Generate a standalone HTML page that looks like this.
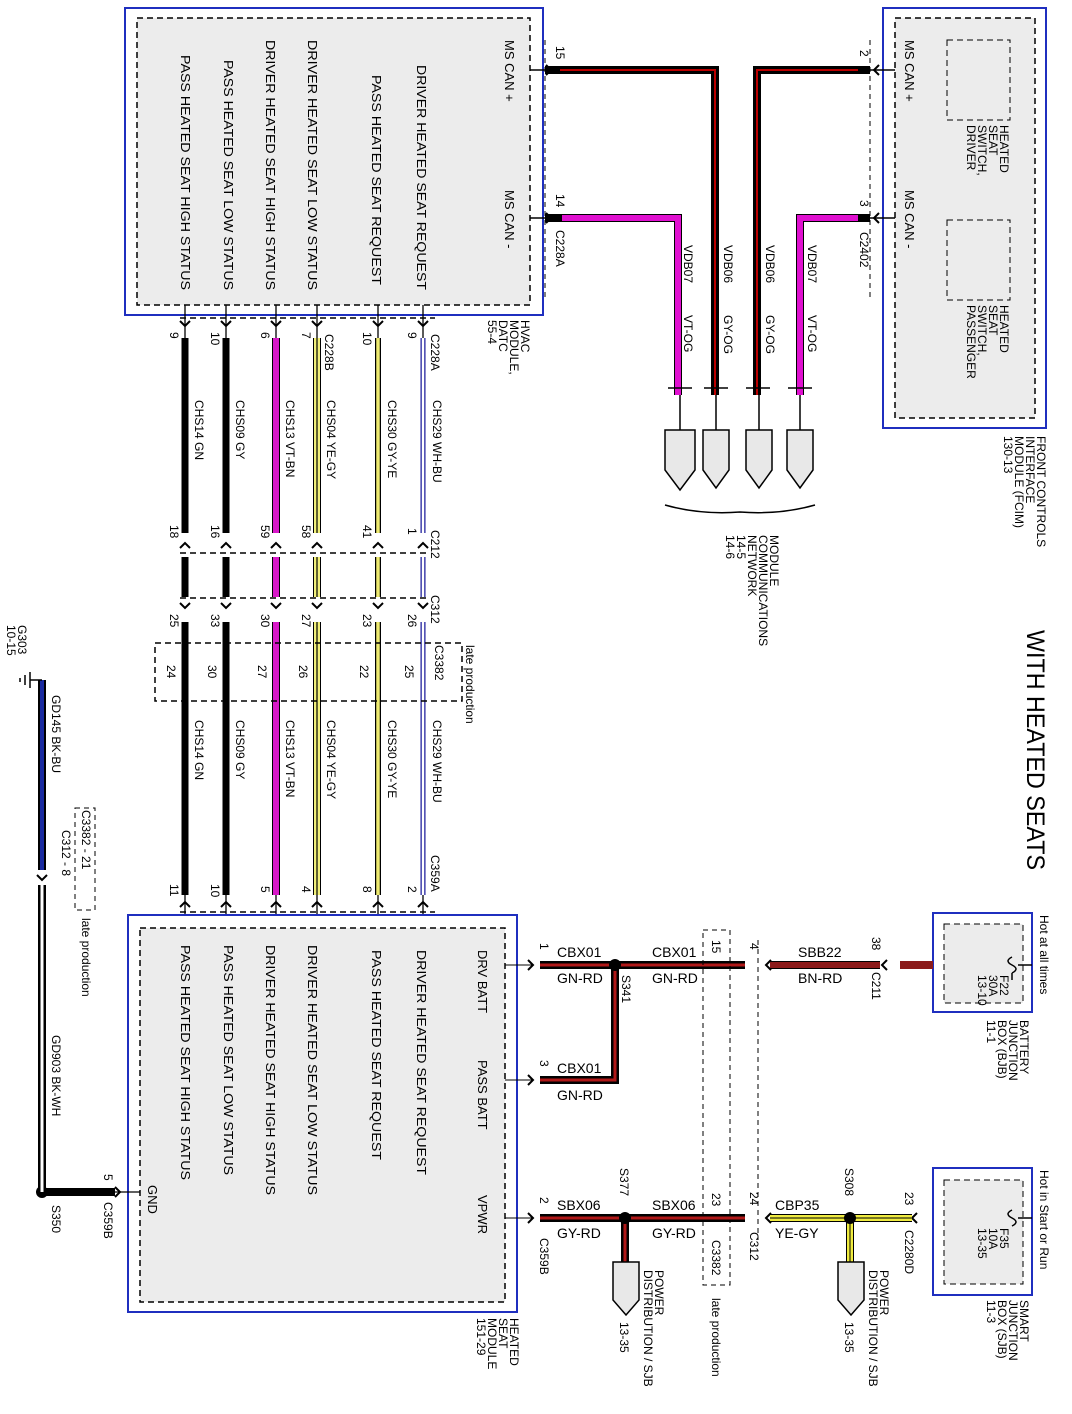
<!DOCTYPE html>
<html><head><meta charset="utf-8"><style>
html,body{margin:0;padding:0;background:#fff;}
svg{display:block;}
text{font-family:"Liberation Sans",Arial,sans-serif;font-size:13px;fill:#000;}
.s{font-size:12px;}
.h{font-size:14px;}
</style></head><body>
<svg width="1072" height="1414" viewBox="0 0 1072 1414" xmlns="http://www.w3.org/2000/svg">
<defs>
<g id="arr"><path d="M-5,-5 L0,0 L5,-5" fill="none" stroke="#000" stroke-width="2"/></g>
<g id="arrU"><path d="M-5,5 L0,0 L5,5" fill="none" stroke="#000" stroke-width="2"/></g>
<g id="arrL"><path d="M5,-5 L0,0 L5,5" fill="none" stroke="#000" stroke-width="2"/></g>
<g id="arrR"><path d="M-5,-5 L0,0 L-5,5" fill="none" stroke="#000" stroke-width="2"/></g>
</defs>

<!-- HVAC module -->
<rect x="125" y="8" width="418" height="307" fill="#fff" stroke="#1f2fbf" stroke-width="2"/>
<rect x="137" y="18" width="393" height="287" fill="#ececec" stroke="#000" stroke-width="1.5" stroke-dasharray="6,4"/>
<text transform="translate(417,65) rotate(90)" textLength="225" lengthAdjust="spacingAndGlyphs">DRIVER HEATED SEAT REQUEST</text>
<text transform="translate(372,75) rotate(90)" textLength="210" lengthAdjust="spacingAndGlyphs">PASS HEATED SEAT REQUEST</text>
<text transform="translate(308,40) rotate(90)" textLength="250" lengthAdjust="spacingAndGlyphs">DRIVER HEATED SEAT LOW STATUS</text>
<text transform="translate(266,40) rotate(90)" textLength="250" lengthAdjust="spacingAndGlyphs">DRIVER HEATED SEAT HIGH STATUS</text>
<text transform="translate(224,60) rotate(90)" textLength="230" lengthAdjust="spacingAndGlyphs">PASS HEATED SEAT LOW STATUS</text>
<text transform="translate(181,55) rotate(90)" textLength="235" lengthAdjust="spacingAndGlyphs">PASS HEATED SEAT HIGH STATUS</text>
<text transform="translate(505,40) rotate(90)">MS CAN +</text>
<text transform="translate(505,190) rotate(90)">MS CAN -</text>
<text class="s" transform="translate(521,320) rotate(90)">HVAC</text>
<text class="s" transform="translate(510,320) rotate(90)">MODULE,</text>
<text class="s" transform="translate(499,320) rotate(90)">DATC</text>
<text class="s" transform="translate(488,320) rotate(90)">55-4</text>

<!-- FCIM -->
<rect x="883" y="8" width="163" height="420" fill="#fff" stroke="#1f2fbf" stroke-width="2"/>
<rect x="895" y="18" width="140" height="400" fill="#ececec" stroke="#000" stroke-width="1.5" stroke-dasharray="6,4"/>
<rect x="947" y="40" width="63" height="80" fill="none" stroke="#000" stroke-dasharray="6,4"/>
<rect x="947" y="220" width="63" height="80" fill="none" stroke="#000" stroke-dasharray="6,4"/>
<text class="s" transform="translate(1000,125) rotate(90)">HEATED</text>
<text class="s" transform="translate(989,125) rotate(90)">SEAT</text>
<text class="s" transform="translate(978,125) rotate(90)">SWITCH,</text>
<text class="s" transform="translate(967,125) rotate(90)">DRIVER</text>
<text class="s" transform="translate(1000,305) rotate(90)">HEATED</text>
<text class="s" transform="translate(989,305) rotate(90)">SEAT</text>
<text class="s" transform="translate(978,305) rotate(90)">SWITCH,</text>
<text class="s" transform="translate(967,305) rotate(90)">PASSENGER</text>
<text transform="translate(905,40) rotate(90)">MS CAN +</text>
<text transform="translate(905,190) rotate(90)">MS CAN -</text>
<text class="s" transform="translate(1037,436) rotate(90)">FRONT CONTROLS</text>
<text class="s" transform="translate(1026,436) rotate(90)">INTERFACE</text>
<text class="s" transform="translate(1015,436) rotate(90)">MODULE (FCIM)</text>
<text class="s" transform="translate(1004,436) rotate(90)">130-13</text>

<text transform="translate(1027,630) rotate(90)" style="font-size:25px" textLength="240" lengthAdjust="spacingAndGlyphs">WITH HEATED SEATS</text>

<!-- CAN wires -->
<path d="M545,70 H715 V395" fill="none" stroke="#000" stroke-width="8"/>
<path d="M560,70 H715 V395" fill="none" stroke="#b00" stroke-width="2"/>
<path d="M870,70 H757 V395" fill="none" stroke="#000" stroke-width="8"/>
<path d="M858,70 H757 V395" fill="none" stroke="#b00" stroke-width="2"/>
<path d="M545,218 H678 V395" fill="none" stroke="#000" stroke-width="8"/>
<path d="M562,218 H678 V395" fill="none" stroke="#e010d0" stroke-width="6"/>
<path d="M870,218 H800 V395" fill="none" stroke="#000" stroke-width="8"/>
<path d="M858,218 H800 V395" fill="none" stroke="#e010d0" stroke-width="6"/>
<use href="#arrR" x="551" y="70"/><use href="#arrR" x="551" y="218"/>
<use href="#arrL" x="874" y="70"/><use href="#arrL" x="874" y="218"/>
<line x1="530" y1="70" x2="545" y2="70" stroke="#000" stroke-width="1.5"/>
<line x1="530" y1="218" x2="545" y2="218" stroke="#000" stroke-width="1.5"/>
<line x1="870" y1="70" x2="895" y2="70" stroke="#000" stroke-width="1.5"/>
<line x1="870" y1="218" x2="895" y2="218" stroke="#000" stroke-width="1.5"/>
<line x1="545" y1="40" x2="545" y2="300" stroke="#000" stroke-dasharray="5,4"/>
<line x1="870" y1="40" x2="870" y2="300" stroke="#000" stroke-dasharray="5,4"/>
<text class="s" transform="translate(556,46) rotate(90)">15</text>
<text class="s" transform="translate(556,194) rotate(90)">14</text>
<text class="s" transform="translate(556,230) rotate(90)">C228A</text>
<text class="s" transform="translate(860,50) rotate(90)">2</text>
<text class="s" transform="translate(860,200) rotate(90)">3</text>
<text class="s" transform="translate(860,232) rotate(90)">C2402</text>
<text class="s" transform="translate(684,245) rotate(90)">VDB07</text>
<text class="s" transform="translate(684,315) rotate(90)">VT-OG</text>
<text class="s" transform="translate(724,245) rotate(90)">VDB06</text>
<text class="s" transform="translate(724,315) rotate(90)">GY-OG</text>
<text class="s" transform="translate(766,245) rotate(90)">VDB06</text>
<text class="s" transform="translate(766,315) rotate(90)">GY-OG</text>
<text class="s" transform="translate(808,245) rotate(90)">VDB07</text>
<text class="s" transform="translate(808,315) rotate(90)">VT-OG</text>
<g fill="#e8e8e8" stroke="#000" stroke-width="1.5">
<path d="M665,430 H695 V470 L680,490 L665,470 Z"/>
<path d="M703,430 H729 V470 L716,488 L703,470 Z"/>
<path d="M746,430 H772 V470 L759,488 L746,470 Z"/>
<path d="M787,430 H813 V470 L800,488 L787,470 Z"/>
</g>
<g stroke="#000" stroke-width="1.5"><line x1="668" y1="388" x2="692" y2="388"/><line x1="704" y1="388" x2="728" y2="388"/><line x1="746" y1="388" x2="770" y2="388"/><line x1="788" y1="388" x2="812" y2="388"/>
<line x1="680" y1="395" x2="680" y2="430"/><line x1="716" y1="395" x2="716" y2="430"/><line x1="759" y1="395" x2="759" y2="430"/><line x1="800" y1="395" x2="800" y2="430"/></g>
<path d="M665,505 Q700,515 740,512 Q780,515 815,505" fill="none" stroke="#000" stroke-width="1.5"/>
<text class="s" transform="translate(770,535) rotate(90)">MODULE</text>
<text class="s" transform="translate(759,535) rotate(90)">COMMUNICATIONS</text>
<text class="s" transform="translate(748,535) rotate(90)">NETWORK</text>
<text class="s" transform="translate(737,535) rotate(90)">14-5</text>
<text class="s" transform="translate(726,535) rotate(90)">14-6</text>

<!-- six vertical wires -->
<g>
<g stroke="#000" stroke-width="7"><line x1="185" y1="338" x2="185" y2="533"/><line x1="185" y1="557" x2="185" y2="597"/><line x1="185" y1="622" x2="185" y2="895"/>
<line x1="226" y1="338" x2="226" y2="533"/><line x1="226" y1="557" x2="226" y2="597"/><line x1="226" y1="622" x2="226" y2="895"/></g>
<g stroke="#000" stroke-width="8"><line x1="276" y1="338" x2="276" y2="533"/><line x1="276" y1="557" x2="276" y2="597"/><line x1="276" y1="622" x2="276" y2="895"/>
<line x1="317" y1="338" x2="317" y2="533"/><line x1="317" y1="557" x2="317" y2="597"/><line x1="317" y1="622" x2="317" y2="895"/></g>
<g stroke="#d818c8" stroke-width="6"><line x1="276" y1="338" x2="276" y2="533"/><line x1="276" y1="557" x2="276" y2="597"/><line x1="276" y1="622" x2="276" y2="895"/></g>
<g stroke="#f2f07a" stroke-width="6"><line x1="317" y1="338" x2="317" y2="533"/><line x1="317" y1="557" x2="317" y2="597"/><line x1="317" y1="622" x2="317" y2="895"/></g>
<g stroke="#000" stroke-width="1.2"><line x1="317" y1="338" x2="317" y2="533"/><line x1="317" y1="557" x2="317" y2="597"/><line x1="317" y1="622" x2="317" y2="895"/></g>
<g stroke="#000" stroke-width="6"><line x1="378" y1="338" x2="378" y2="533"/><line x1="378" y1="557" x2="378" y2="597"/><line x1="378" y1="622" x2="378" y2="895"/></g>
<g stroke="#eeea70" stroke-width="3.5"><line x1="378" y1="338" x2="378" y2="533"/><line x1="378" y1="557" x2="378" y2="597"/><line x1="378" y1="622" x2="378" y2="895"/></g>
<g stroke="#1a1a9a" stroke-width="5"><line x1="423" y1="338" x2="423" y2="533"/><line x1="423" y1="557" x2="423" y2="597"/><line x1="423" y1="622" x2="423" y2="895"/></g>
<g stroke="#fff" stroke-width="2.5"><line x1="423" y1="338" x2="423" y2="533"/><line x1="423" y1="557" x2="423" y2="597"/><line x1="423" y1="622" x2="423" y2="895"/></g>
</g>
<g stroke="#000" stroke-width="1.3">
<line x1="185" y1="305" x2="185" y2="338"/><line x1="226" y1="305" x2="226" y2="338"/><line x1="276" y1="305" x2="276" y2="338"/><line x1="317" y1="305" x2="317" y2="338"/><line x1="378" y1="305" x2="378" y2="338"/><line x1="423" y1="305" x2="423" y2="338"/>
<line x1="185" y1="895" x2="185" y2="928"/><line x1="226" y1="895" x2="226" y2="928"/><line x1="276" y1="895" x2="276" y2="928"/><line x1="317" y1="895" x2="317" y2="928"/><line x1="378" y1="895" x2="378" y2="928"/><line x1="423" y1="895" x2="423" y2="928"/>
</g>
<g>
<use href="#arr" x="185" y="326"/><use href="#arr" x="226" y="326"/><use href="#arr" x="276" y="326"/><use href="#arr" x="317" y="326"/><use href="#arr" x="378" y="326"/><use href="#arr" x="423" y="326"/>
<use href="#arrU" x="185" y="543"/><use href="#arrU" x="226" y="543"/><use href="#arrU" x="276" y="543"/><use href="#arrU" x="317" y="543"/><use href="#arrU" x="378" y="543"/><use href="#arrU" x="423" y="543"/>
<use href="#arr" x="185" y="608"/><use href="#arr" x="226" y="608"/><use href="#arr" x="276" y="608"/><use href="#arr" x="317" y="608"/><use href="#arr" x="378" y="608"/><use href="#arr" x="423" y="608"/>
<use href="#arrU" x="185" y="902"/><use href="#arrU" x="226" y="902"/><use href="#arrU" x="276" y="902"/><use href="#arrU" x="317" y="902"/><use href="#arrU" x="378" y="902"/><use href="#arrU" x="423" y="902"/>
</g>
<g stroke="#000" stroke-width="1.5" stroke-dasharray="6,4" fill="none">
<line x1="180" y1="318" x2="435" y2="318"/>
<line x1="180" y1="553" x2="430" y2="553"/>
<line x1="180" y1="598" x2="430" y2="598"/>
<rect x="155" y="643" width="307" height="58"/>
<line x1="180" y1="912" x2="435" y2="912"/>
</g>
<g>
<text class="s" transform="translate(170,332) rotate(90)">9</text><text class="s" transform="translate(211,332) rotate(90)">10</text><text class="s" transform="translate(261,332) rotate(90)">6</text><text class="s" transform="translate(302,332) rotate(90)">7</text><text class="s" transform="translate(363,332) rotate(90)">10</text><text class="s" transform="translate(408,332) rotate(90)">9</text>
<text class="s" transform="translate(325,334) rotate(90)">C228B</text><text class="s" transform="translate(431,334) rotate(90)">C228A</text>
<text class="s" transform="translate(170,525) rotate(90)">18</text><text class="s" transform="translate(211,525) rotate(90)">16</text><text class="s" transform="translate(261,525) rotate(90)">59</text><text class="s" transform="translate(302,525) rotate(90)">58</text><text class="s" transform="translate(363,525) rotate(90)">41</text><text class="s" transform="translate(408,528) rotate(90)">1</text>
<text class="s" transform="translate(431,530) rotate(90)">C212</text><text class="s" transform="translate(431,595) rotate(90)">C312</text>
<text class="s" transform="translate(170,614) rotate(90)">25</text><text class="s" transform="translate(211,614) rotate(90)">33</text><text class="s" transform="translate(261,614) rotate(90)">30</text><text class="s" transform="translate(302,614) rotate(90)">27</text><text class="s" transform="translate(363,614) rotate(90)">23</text><text class="s" transform="translate(408,614) rotate(90)">26</text>
<text class="s" transform="translate(167,665) rotate(90)">24</text><text class="s" transform="translate(208,665) rotate(90)">30</text><text class="s" transform="translate(258,665) rotate(90)">27</text><text class="s" transform="translate(299,665) rotate(90)">26</text><text class="s" transform="translate(360,665) rotate(90)">22</text><text class="s" transform="translate(405,665) rotate(90)">25</text>
<text class="s" transform="translate(435,645) rotate(90)">C3382</text><text class="s" transform="translate(466,645) rotate(90)">late production</text>
<text class="s" transform="translate(195,400) rotate(90)">CHS14   GN</text><text class="s" transform="translate(236,400) rotate(90)">CHS09   GY</text><text class="s" transform="translate(286,400) rotate(90)">CHS13   VT-BN</text><text class="s" transform="translate(327,400) rotate(90)">CHS04   YE-GY</text><text class="s" transform="translate(388,400) rotate(90)">CHS30   GY-YE</text><text class="s" transform="translate(433,400) rotate(90)">CHS29   WH-BU</text>
<text class="s" transform="translate(195,720) rotate(90)">CHS14   GN</text><text class="s" transform="translate(236,720) rotate(90)">CHS09   GY</text><text class="s" transform="translate(286,720) rotate(90)">CHS13   VT-BN</text><text class="s" transform="translate(327,720) rotate(90)">CHS04   YE-GY</text><text class="s" transform="translate(388,720) rotate(90)">CHS30   GY-YE</text><text class="s" transform="translate(433,720) rotate(90)">CHS29   WH-BU</text>
<text class="s" transform="translate(170,884) rotate(90)">11</text><text class="s" transform="translate(211,884) rotate(90)">10</text><text class="s" transform="translate(261,886) rotate(90)">5</text><text class="s" transform="translate(302,886) rotate(90)">4</text><text class="s" transform="translate(363,886) rotate(90)">8</text><text class="s" transform="translate(408,886) rotate(90)">2</text>
<text class="s" transform="translate(431,855) rotate(90)">C359A</text>
</g>

<!-- Heated seat module -->
<rect x="128" y="915" width="389" height="397" fill="#fff" stroke="#1f2fbf" stroke-width="2"/>
<rect x="140" y="928" width="365" height="374" fill="#ececec" stroke="#000" stroke-width="1.5" stroke-dasharray="6,4"/>
<text transform="translate(417,950) rotate(90)" textLength="225" lengthAdjust="spacingAndGlyphs">DRIVER HEATED SEAT REQUEST</text>
<text transform="translate(372,950) rotate(90)" textLength="210" lengthAdjust="spacingAndGlyphs">PASS HEATED SEAT REQUEST</text>
<text transform="translate(308,945) rotate(90)" textLength="250" lengthAdjust="spacingAndGlyphs">DRIVER HEATED SEAT LOW STATUS</text>
<text transform="translate(266,945) rotate(90)" textLength="250" lengthAdjust="spacingAndGlyphs">DRIVER HEATED SEAT HIGH STATUS</text>
<text transform="translate(224,945) rotate(90)" textLength="230" lengthAdjust="spacingAndGlyphs">PASS HEATED SEAT LOW STATUS</text>
<text transform="translate(181,945) rotate(90)" textLength="235" lengthAdjust="spacingAndGlyphs">PASS HEATED SEAT HIGH STATUS</text>
<text transform="translate(478,950) rotate(90)">DRV BATT</text>
<text transform="translate(478,1060) rotate(90)">PASS BATT</text>
<text transform="translate(478,1195) rotate(90)">VPWR</text>
<text transform="translate(148,1185) rotate(90)">GND</text>
<text class="s" transform="translate(510,1318) rotate(90)">HEATED</text>
<text class="s" transform="translate(499,1318) rotate(90)">SEAT</text>
<text class="s" transform="translate(488,1318) rotate(90)">MODULE</text>
<text class="s" transform="translate(477,1318) rotate(90)">151-29</text>

<!-- BJB -->
<rect x="933" y="913" width="99" height="99" fill="#fff" stroke="#1f2fbf" stroke-width="2"/>
<rect x="944" y="924" width="79" height="79" fill="#ececec" stroke="#000" stroke-dasharray="6,4"/>
<text class="s" transform="translate(1000,975) rotate(90)">F22</text>
<text class="s" transform="translate(989,975) rotate(90)">30A</text>
<text class="s" transform="translate(978,975) rotate(90)">13-10</text>
<path d="M1032,965 H1018 M1012,957 Q1004,961 1012,965 Q1020,969 1012,973 M1012,973 V980" fill="none" stroke="#000" stroke-width="1.5"/>
<text class="s" transform="translate(1040,915) rotate(90)">Hot at all times</text>
<text class="s" transform="translate(1020,1020) rotate(90)">BATTERY</text>
<text class="s" transform="translate(1009,1020) rotate(90)">JUNCTION</text>
<text class="s" transform="translate(998,1020) rotate(90)">BOX (BJB)</text>
<text class="s" transform="translate(987,1020) rotate(90)">11-1</text>

<!-- SJB -->
<rect x="933" y="1168" width="99" height="127" fill="#fff" stroke="#1f2fbf" stroke-width="2"/>
<rect x="944" y="1180" width="79" height="104" fill="#ececec" stroke="#000" stroke-dasharray="6,4"/>
<text class="s" transform="translate(1000,1228) rotate(90)">F35</text>
<text class="s" transform="translate(989,1228) rotate(90)">10A</text>
<text class="s" transform="translate(978,1228) rotate(90)">13-35</text>
<path d="M1032,1218 H1018 M1012,1210 Q1004,1214 1012,1218 Q1020,1222 1012,1226" fill="none" stroke="#000" stroke-width="1.5"/>
<text class="s" transform="translate(1040,1170) rotate(90)">Hot in Start or Run</text>
<text class="s" transform="translate(1020,1300) rotate(90)">SMART</text>
<text class="s" transform="translate(1009,1300) rotate(90)">JUNCTION</text>
<text class="s" transform="translate(998,1300) rotate(90)">BOX (SJB)</text>
<text class="s" transform="translate(987,1300) rotate(90)">11-3</text>

<!-- Power wires -->
<line x1="900" y1="965" x2="933" y2="965" stroke="#8b1a1a" stroke-width="8"/>
<line x1="770" y1="965" x2="880" y2="965" stroke="#000" stroke-width="8"/>
<line x1="770" y1="965" x2="880" y2="965" stroke="#8b1a1a" stroke-width="6"/>
<path d="M540,965 H745 M615,965 V1080 H540" fill="none" stroke="#000" stroke-width="8"/>
<path d="M540,965 H745 M615,965 V1080 H540" fill="none" stroke="#b01818" stroke-width="3"/>
<circle cx="615" cy="965" r="6" fill="#000"/>
<use href="#arrL" x="882" y="965"/><use href="#arrL" x="766" y="965"/><use href="#arrR" x="533" y="965"/><use href="#arrR" x="533" y="1080"/><use href="#arrR" x="533" y="1218"/><use href="#arrL" x="766" y="1218"/><use href="#arrL" x="912" y="1218"/>
<line x1="505" y1="965" x2="533" y2="965" stroke="#000"/><line x1="505" y1="1080" x2="533" y2="1080" stroke="#000"/><line x1="505" y1="1218" x2="533" y2="1218" stroke="#000"/>
<line x1="758" y1="940" x2="758" y2="1240" stroke="#000" stroke-dasharray="5,4"/>
<rect x="703" y="930" width="27" height="355" fill="none" stroke="#000" stroke-dasharray="5,4"/>
<text class="s" transform="translate(540,943) rotate(90)">1</text>
<text class="s" transform="translate(540,1060) rotate(90)">3</text>
<text class="s" transform="translate(540,1197) rotate(90)">2</text>
<text class="s" transform="translate(540,1238) rotate(90)">C359B</text>
<text class="s" transform="translate(750,943) rotate(90)">4</text>
<text class="s" transform="translate(750,1192) rotate(90)">24</text>
<text class="s" transform="translate(750,1232) rotate(90)">C312</text>
<text class="s" transform="translate(712,940) rotate(90)">15</text>
<text class="s" transform="translate(712,1193) rotate(90)">23</text>
<text class="s" transform="translate(712,1240) rotate(90)">C3382</text>
<text class="s" transform="translate(712,1298) rotate(90)">late production</text>
<text class="s" transform="translate(872,937) rotate(90)">38</text>
<text class="s" transform="translate(872,972) rotate(90)">C211</text>
<text class="s" transform="translate(905,1192) rotate(90)">23</text>
<text class="s" transform="translate(905,1230) rotate(90)">C2280D</text>
<g>
<text class="h" x="557" y="957">CBX01</text>
<text class="h" x="557" y="983">GN-RD</text>
<text class="h" x="652" y="957">CBX01</text>
<text class="h" x="652" y="983">GN-RD</text>
<text class="h" x="798" y="957">SBB22</text>
<text class="h" x="798" y="983">BN-RD</text>
<text class="h" x="557" y="1073">CBX01</text>
<text class="h" x="557" y="1100">GN-RD</text>
<text class="h" x="557" y="1210">SBX06</text>
<text class="h" x="557" y="1238">GY-RD</text>
<text class="h" x="652" y="1210">SBX06</text>
<text class="h" x="652" y="1238">GY-RD</text>
<text class="h" x="775" y="1210">CBP35</text>
<text class="h" x="775" y="1238">YE-GY</text>
</g>
<text class="s" transform="translate(622,975) rotate(90)">S341</text>

<path d="M540,1218 H745 M625,1218 V1262" fill="none" stroke="#000" stroke-width="8"/>
<path d="M540,1218 H745 M625,1218 V1262" fill="none" stroke="#b01818" stroke-width="3"/>
<circle cx="625" cy="1218" r="6" fill="#000"/>
<path d="M770,1218 H912 M850,1218 V1262" fill="none" stroke="#000" stroke-width="8"/>
<path d="M770,1218 H912 M850,1218 V1262" fill="none" stroke="#f0ec40" stroke-width="6"/>
<path d="M770,1218 H912 M850,1218 V1262" fill="none" stroke="#000" stroke-width="1"/>
<circle cx="850" cy="1218" r="6" fill="#000"/>
<g fill="#e8e8e8" stroke="#000" stroke-width="1.5">
<path d="M613,1262 H639 V1300 L626,1315 L613,1300 Z"/>
<path d="M838,1262 H864 V1300 L851,1315 L838,1300 Z"/>
</g>
<text class="s" transform="translate(620,1168) rotate(90)">S377</text>
<text class="s" transform="translate(845,1168) rotate(90)">S308</text>
<text class="s" transform="translate(655,1270) rotate(90)">POWER</text>
<text class="s" transform="translate(644,1270) rotate(90)">DISTRIBUTION / SJB</text>
<text class="s" transform="translate(620,1322) rotate(90)">13-35</text>
<text class="s" transform="translate(880,1270) rotate(90)">POWER</text>
<text class="s" transform="translate(869,1270) rotate(90)">DISTRIBUTION / SJB</text>
<text class="s" transform="translate(845,1322) rotate(90)">13-35</text>

<!-- Ground -->
<line x1="42" y1="1192" x2="115" y2="1192" stroke="#000" stroke-width="8"/>
<line x1="115" y1="1192" x2="140" y2="1192" stroke="#000" stroke-width="1.3"/>
<use href="#arrR" x="120" y="1192"/>
<circle cx="42" cy="1192" r="6" fill="#000"/>
<line x1="42" y1="680" x2="42" y2="870" stroke="#000" stroke-width="8"/>
<line x1="42" y1="680" x2="42" y2="870" stroke="#1a2aa0" stroke-width="4"/>
<line x1="42" y1="885" x2="42" y2="1192" stroke="#000" stroke-width="8"/>
<line x1="42" y1="885" x2="42" y2="1192" stroke="#fff" stroke-width="3"/>
<use href="#arr" x="42" y="880"/>
<path d="M30,680 H42 M30,672 V688 M25,675 V685 M20,678 V682" fill="none" stroke="#000" stroke-width="1.5"/>
<rect x="75" y="808" width="20" height="102" fill="none" stroke="#000" stroke-dasharray="5,4"/>
<text class="s" transform="translate(18,625) rotate(90)">G303</text>
<text class="s" transform="translate(7,625) rotate(90)">10-15</text>
<text class="s" transform="translate(52,695) rotate(90)">GD145   BK-BU</text>
<text class="s" transform="translate(52,1035) rotate(90)">GD903   BK-WH</text>
<text class="s" transform="translate(62,830) rotate(90)">C312 - 8</text>
<text class="s" transform="translate(82,810) rotate(90)">C3382 - 21</text>
<text class="s" transform="translate(82,918) rotate(90)">late production</text>
<text class="s" transform="translate(104,1174) rotate(90)">5</text>
<text class="s" transform="translate(104,1202) rotate(90)">C359B</text>
<text class="s" transform="translate(52,1205) rotate(90)">S350</text>
</svg>
</body></html>
